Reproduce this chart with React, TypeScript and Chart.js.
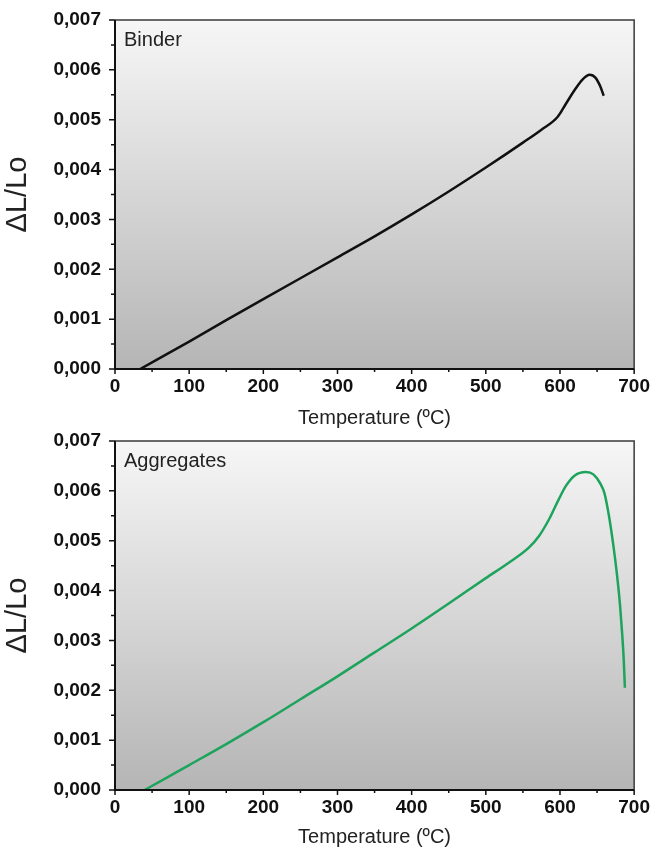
import React, { useEffect, useRef } from 'react';
import { Chart, registerables } from 'chart.js';

Chart.register(...registerables);

// ---- Data ----
const xTickValues = [0, 100, 200, 300, 400, 500, 600, 700];
const xTickLabels = ['0', '100', '200', '300', '400', '500', '600', '700'];
const xMinorValues = [50, 150, 250, 350, 450, 550, 650];

const yTickValues = [0, 0.001, 0.002, 0.003, 0.004, 0.005, 0.006, 0.007];
const yTickLabels = ['0,000', '0,001', '0,002', '0,003', '0,004', '0,005', '0,006', '0,007'];
const yMinorValues = [0.0005, 0.0015, 0.0025, 0.0035, 0.0045, 0.0055, 0.0065];

const binderTemp = [34, 100, 150, 200, 250, 300, 350, 400, 450, 500, 550, 575, 597, 608, 620, 630, 640, 648, 654, 659];
const binderStrain = [0, 0.00055, 0.00098, 0.0014, 0.00182, 0.00224, 0.00266, 0.0031, 0.00356, 0.00404, 0.00454, 0.0048, 0.00506, 0.00532, 0.0056, 0.0058, 0.0059, 0.00584, 0.00568, 0.00548];

const aggTemp = [40, 70, 100, 150, 200, 250, 300, 350, 400, 450, 500, 530, 558, 572, 586, 598, 608, 620, 635, 645, 655, 660, 666, 672, 677, 681, 684, 686, 687.5];
const aggStrain = [0, 0.00025, 0.0005, 0.00092, 0.00136, 0.00182, 0.00228, 0.00276, 0.00324, 0.00374, 0.00425, 0.00455, 0.00486, 0.0051, 0.00545, 0.00582, 0.0061, 0.00631, 0.00638, 0.00633, 0.00613, 0.00595, 0.0055, 0.0049, 0.0043, 0.0037, 0.0031, 0.0026, 0.00205];

const FONT = "'Liberation Sans', Arial, Helvetica, sans-serif";

const panelPlugin = {
  id: 'panel',
  beforeDraw(chart: any) {
    const { ctx, chartArea: a } = chart;
    ctx.save();
    const g = ctx.createLinearGradient(0, a.top, 0, a.bottom);
    g.addColorStop(0, '#f6f6f6');
    g.addColorStop(0.5, '#d6d6d6');
    g.addColorStop(1, '#b5b5b5');
    ctx.fillStyle = g;
    ctx.fillRect(a.left, a.top, a.right - a.left, a.bottom - a.top);
    ctx.restore();
  },
  afterDraw(chart: any, _args: any, opts: any) {
    const { ctx, chartArea: a, scales } = chart;
    const xs = scales.x;
    const ys = scales.y;
    ctx.save();
    // frame top/right
    ctx.strokeStyle = '#3a3a3a';
    ctx.lineWidth = 1.5;
    ctx.beginPath();
    ctx.moveTo(a.left, a.top);
    ctx.lineTo(a.right, a.top);
    ctx.lineTo(a.right, a.bottom);
    ctx.stroke();
    // axes left/bottom
    ctx.strokeStyle = '#111';
    ctx.lineWidth = 2;
    ctx.beginPath();
    ctx.moveTo(a.left, a.top);
    ctx.lineTo(a.left, a.bottom);
    ctx.lineTo(a.right, a.bottom);
    ctx.stroke();
    // ticks
    ctx.lineWidth = 1.5;
    ctx.beginPath();
    xTickValues.forEach((v) => {
      const px = xs.getPixelForValue(v);
      ctx.moveTo(px, a.bottom);
      ctx.lineTo(px, a.bottom + 5);
    });
    xMinorValues.forEach((v) => {
      const px = xs.getPixelForValue(v);
      ctx.moveTo(px, a.bottom);
      ctx.lineTo(px, a.bottom + 3);
    });
    yTickValues.forEach((v) => {
      const py = ys.getPixelForValue(v);
      ctx.moveTo(a.left - 6, py);
      ctx.lineTo(a.left, py);
    });
    yMinorValues.forEach((v) => {
      const py = ys.getPixelForValue(v);
      ctx.moveTo(a.left - 4, py);
      ctx.lineTo(a.left, py);
    });
    ctx.stroke();
    // panel label
    ctx.fillStyle = '#222';
    ctx.font = `20px ${FONT}`;
    ctx.textAlign = 'left';
    ctx.textBaseline = 'alphabetic';
    ctx.fillText(opts.label, a.left + 9, a.top + 26);
    ctx.restore();
  },
};

type PanelProps = {
  name: string;
  temps: number[];
  strains: number[];
  color: string;
  top: number;
  height: number;
  padTop: number;
  axisHeight: number;
  titlePad: number;
};

function Panel({ name, temps, strains, color, top, height, padTop, axisHeight, titlePad }: PanelProps) {
  const ref = useRef<HTMLCanvasElement | null>(null);
  useEffect(() => {
    if (!ref.current) return;
    const chart = new Chart(ref.current, {
      type: 'line',
      data: {
        datasets: [
          {
            data: temps.map((t, i) => ({ x: t, y: strains[i] })),
            borderColor: color,
            borderWidth: 2.5,
            pointRadius: 0,
            cubicInterpolationMode: 'monotone',
            fill: false,
          },
        ],
      },
      plugins: [panelPlugin],
      options: {
        animation: false,
        responsive: false,
        maintainAspectRatio: false,
        layout: { padding: { left: 0, right: 21, top: padTop, bottom: 0 } },
        plugins: {
          legend: { display: false },
          tooltip: { enabled: false },
          panel: { label: name },
        } as any,
        scales: {
          x: {
            type: 'linear',
            min: 0,
            max: 700,
            afterBuildTicks: (s: any) => {
              s.ticks = xTickValues.map((v) => ({ value: v }));
            },
            afterFit: (s: any) => {
              s.height = axisHeight;
            },
            ticks: {
              callback: (_v: any, i: number) => xTickLabels[i],
              font: { family: FONT, size: 19, weight: 'bold' },
              color: '#111',
              padding: 6,
              maxRotation: 0,
              autoSkip: false,
            },
            grid: { display: false, drawTicks: false },
            border: { display: false },
            title: {
              display: true,
              text: 'Temperature (ºC)',
              font: { family: FONT, size: 20 },
              color: '#222',
              padding: { top: 0, bottom: titlePad },
            },
          },
          y: {
            type: 'linear',
            min: 0,
            max: 0.007,
            afterBuildTicks: (s: any) => {
              s.ticks = yTickValues.map((v) => ({ value: v }));
            },
            afterFit: (s: any) => {
              s.width = 115;
              s.paddingTop = 0;
              s.paddingBottom = 0;
            },
            ticks: {
              callback: (_v: any, i: number) => yTickLabels[i],
              font: { family: FONT, size: 19, weight: 'bold' },
              color: '#111',
              padding: 14,
              autoSkip: false,
            },
            grid: { display: false, drawTicks: false },
            border: { display: false },
            title: {
              display: true,
              text: 'ΔL/Lo',
              font: { family: FONT, size: 29 },
              color: '#222',
              padding: { top: 1, bottom: 0 },
            },
          },
        },
      } as any,
    });
    return () => chart.destroy();
  }, []);
  return (
    <canvas
      ref={ref}
      width={656}
      height={height}
      style={{ position: 'absolute', left: 0, top, width: 656, height, display: 'block' }}
    />
  );
}

export default function App() {
  return (
    <div style={{ position: 'absolute', left: 0, top: 0, width: 656, height: 849, background: '#fff' }}>
      <Panel
        name="Binder"
        temps={binderTemp}
        strains={binderStrain}
        color="#111111"
        top={0}
        height={440}
        padTop={20}
        axisHeight={71}
        titlePad={10}
      />
      <Panel
        name="Aggregates"
        temps={aggTemp}
        strains={aggStrain}
        color="#1ea35c"
        top={420}
        height={429}
        padTop={21}
        axisHeight={59}
        titlePad={0}
      />
    </div>
  );
}
